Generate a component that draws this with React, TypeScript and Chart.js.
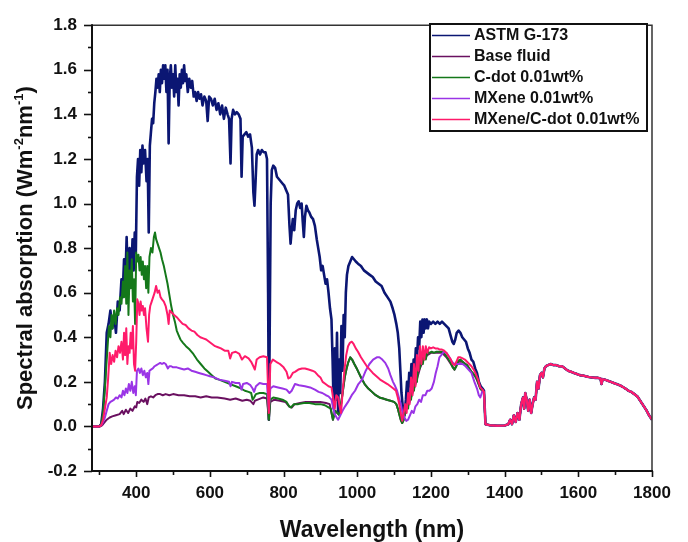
import React, { useEffect, useRef } from "react";
import { Chart, registerables } from "chart.js";

Chart.register(...registerables);

// ---------- data (wavelength nm, spectral absorption W m^-2 nm^-1) ----------
const xTickValues = [400, 600, 800, 1000, 1200, 1400, 1600, 1800];
const yTickValues = [-0.2, 0, 0.2, 0.4, 0.6, 0.8, 1.0, 1.2, 1.4, 1.6, 1.8];

const seriesLabels = ["ASTM G-173", "Base fluid", "C-dot 0.01wt%", "MXene 0.01wt%", "MXene/C-dot 0.01wt%"];

// shared tail (>1345 nm) where all curves coincide
const tailPairs: number[][] = [
  [1348, 0.01], [1360, 0.005], [1380, 0.003], [1400, 0.004], [1410, 0.01], [1415, 0.03], [1420, 0.01],
  [1425, 0.05], [1430, 0.02], [1435, 0.06], [1440, 0.03], [1445, 0.1], [1450, 0.13], [1453, 0.08],
  [1456, 0.15], [1460, 0.12], [1464, 0.07], [1468, 0.12], [1472, 0.06], [1476, 0.1], [1480, 0.13],
  [1484, 0.12], [1488, 0.2], [1492, 0.17], [1496, 0.23], [1500, 0.24], [1504, 0.22], [1508, 0.26],
  [1512, 0.27], [1518, 0.275], [1525, 0.28], [1532, 0.275], [1540, 0.275], [1548, 0.27], [1556, 0.27],
  [1564, 0.26], [1572, 0.25], [1580, 0.245], [1588, 0.24], [1596, 0.235], [1604, 0.23], [1612, 0.228],
  [1620, 0.225], [1628, 0.222], [1636, 0.22], [1644, 0.218], [1652, 0.218], [1660, 0.215], [1663, 0.19],
  [1666, 0.212], [1672, 0.21], [1680, 0.205], [1688, 0.2], [1696, 0.195], [1704, 0.19], [1712, 0.185],
  [1720, 0.178], [1728, 0.17], [1736, 0.16], [1744, 0.155], [1752, 0.145], [1760, 0.135], [1768, 0.115],
  [1776, 0.095], [1784, 0.075], [1792, 0.05], [1800, 0.03],
];

const astmPairs: number[][] = [
  [280, 0], [290, 0], [300, 0], [305, 0.01], [310, 0.08], [315, 0.2], [320, 0.42], [325, 0.46], [330, 0.52],
  [335, 0.44], [340, 0.5], [345, 0.42], [350, 0.56], [355, 0.52], [360, 0.66], [363, 0.58], [367, 0.75],
  [370, 0.62], [374, 0.85], [378, 0.62], [382, 0.8], [386, 0.66], [390, 0.84], [393, 0.7], [396, 0.87],
  [399, 0.78], [402, 1.12], [405, 1.2], [408, 1.08], [411, 1.24], [414, 1.14], [417, 1.26], [420, 1.18],
  [424, 1.24], [428, 1.1], [431, 1.2], [434, 0.87], [437, 1.26], [440, 1.32], [443, 1.38], [446, 1.36],
  [449, 1.45], [452, 1.5], [455, 1.56], [458, 1.52], [461, 1.58], [464, 1.5], [467, 1.6], [470, 1.54],
  [473, 1.62], [476, 1.56], [479, 1.62], [482, 1.5], [485, 1.6], [488, 1.27], [491, 1.56], [494, 1.62],
  [497, 1.52], [500, 1.58], [503, 1.48], [506, 1.62], [509, 1.5], [512, 1.56], [515, 1.44], [518, 1.58],
  [521, 1.52], [524, 1.6], [527, 1.54], [530, 1.62], [533, 1.55], [536, 1.58], [540, 1.5], [544, 1.56],
  [548, 1.52], [552, 1.55], [556, 1.48], [560, 1.5], [564, 1.46], [568, 1.5], [572, 1.47], [576, 1.49],
  [580, 1.44], [585, 1.48], [590, 1.46], [594, 1.37], [598, 1.48], [603, 1.47], [608, 1.44], [613, 1.47],
  [618, 1.42], [623, 1.45], [628, 1.4], [633, 1.44], [638, 1.38], [643, 1.43], [648, 1.4], [652, 1.38],
  [656, 1.18], [659, 1.38], [663, 1.42], [668, 1.4], [673, 1.41], [678, 1.4], [683, 1.38], [686, 1.12],
  [689, 1.3], [694, 1.31], [699, 1.32], [704, 1.3], [709, 1.31], [714, 1.25], [718, 1.05], [721, 0.99],
  [724, 1.1], [727, 1.22], [731, 1.24], [736, 1.22], [741, 1.24], [746, 1.23], [751, 1.23], [755, 1.2],
  [758, 0.6], [760, 0.03], [762, 0.35], [765, 1.0], [768, 1.15], [772, 1.17], [777, 1.16], [782, 1.12],
  [787, 1.11], [792, 1.1], [797, 1.09], [802, 1.08], [807, 1.06], [812, 1.04], [816, 0.9], [819, 0.82],
  [822, 0.88], [825, 0.93], [829, 0.88], [833, 0.97], [837, 1.0], [841, 1.01], [845, 0.98], [849, 1.0],
  [852, 0.92], [855, 0.85], [858, 0.94], [862, 0.99], [866, 0.97], [870, 0.96], [875, 0.94], [880, 0.93],
  [885, 0.9], [890, 0.84], [894, 0.8], [898, 0.76], [902, 0.7], [906, 0.72], [910, 0.68], [914, 0.64],
  [918, 0.66], [922, 0.6], [926, 0.53], [930, 0.48], [933, 0.3], [936, 0.08], [939, 0.35], [942, 0.12],
  [945, 0.42], [948, 0.06], [951, 0.3], [954, 0.15], [957, 0.45], [960, 0.25], [963, 0.5], [966, 0.4],
  [969, 0.6], [972, 0.68], [976, 0.72], [981, 0.74], [986, 0.76], [991, 0.75], [996, 0.74], [1002, 0.73],
  [1010, 0.72], [1018, 0.7], [1026, 0.69], [1034, 0.68], [1042, 0.67], [1050, 0.65], [1058, 0.64],
  [1066, 0.63], [1074, 0.6], [1082, 0.58], [1090, 0.56], [1096, 0.53], [1101, 0.5], [1106, 0.46],
  [1110, 0.42], [1114, 0.35], [1117, 0.25], [1120, 0.15], [1124, 0.08], [1128, 0.05], [1132, 0.12],
  [1135, 0.2], [1138, 0.14], [1141, 0.24], [1144, 0.18], [1147, 0.28], [1150, 0.2], [1153, 0.3],
  [1156, 0.25], [1159, 0.35], [1162, 0.3], [1165, 0.4], [1168, 0.35], [1171, 0.47], [1174, 0.4],
  [1177, 0.48], [1180, 0.42], [1183, 0.48], [1186, 0.44], [1189, 0.48], [1192, 0.44], [1195, 0.47],
  [1200, 0.46], [1206, 0.47], [1212, 0.46], [1218, 0.47], [1224, 0.46], [1230, 0.47], [1236, 0.46],
  [1242, 0.45], [1248, 0.44], [1253, 0.41], [1258, 0.38], [1262, 0.37], [1266, 0.39], [1270, 0.42],
  [1275, 0.43], [1280, 0.42], [1285, 0.4], [1290, 0.39], [1295, 0.38], [1300, 0.35], [1305, 0.33],
  [1310, 0.3], [1315, 0.29], [1320, 0.26], [1325, 0.24], [1330, 0.2], [1335, 0.18], [1340, 0.17], [1344, 0.16],
];

const basePairs: number[][] = [
  [280, 0], [300, 0], [305, 0.002], [310, 0.01], [315, 0.02], [320, 0.03], [328, 0.04], [335, 0.045],
  [345, 0.05], [355, 0.055], [362, 0.07], [366, 0.055], [372, 0.075], [378, 0.06], [384, 0.08], [390, 0.07],
  [396, 0.09], [400, 0.085], [403, 0.11], [408, 0.105], [414, 0.12], [420, 0.11], [425, 0.125], [430, 0.1],
  [434, 0.13], [440, 0.135], [446, 0.13], [452, 0.14], [458, 0.145], [465, 0.145], [472, 0.14], [480, 0.145],
  [490, 0.14], [500, 0.145], [515, 0.14], [530, 0.14], [545, 0.135], [560, 0.135], [575, 0.13], [590, 0.135],
  [605, 0.13], [620, 0.13], [640, 0.125], [655, 0.12], [670, 0.125], [688, 0.115], [700, 0.12], [710, 0.115],
  [718, 0.1], [722, 0.115], [730, 0.12], [745, 0.13], [755, 0.125], [760, 0.03], [764, 0.11], [775, 0.12],
  [790, 0.115], [805, 0.11], [815, 0.09], [822, 0.085], [830, 0.1], [845, 0.105], [860, 0.11], [880, 0.11],
  [900, 0.11], [915, 0.105], [925, 0.1], [934, 0.03], [940, 0.07], [946, 0.06], [952, 0.05], [956, 0.1],
  [961, 0.16], [966, 0.22], [971, 0.26], [976, 0.29], [981, 0.31], [986, 0.3], [992, 0.28], [1000, 0.255],
  [1010, 0.22], [1020, 0.19], [1030, 0.17], [1040, 0.155], [1050, 0.14], [1060, 0.13], [1070, 0.125],
  [1080, 0.12], [1090, 0.115], [1100, 0.11], [1106, 0.1], [1110, 0.08], [1114, 0.055], [1118, 0.03],
  [1122, 0.015], [1126, 0.03], [1130, 0.07], [1140, 0.1], [1150, 0.15], [1160, 0.2], [1170, 0.26],
  [1180, 0.3], [1190, 0.32], [1200, 0.33], [1215, 0.33], [1230, 0.33], [1242, 0.31], [1254, 0.28],
  [1264, 0.255], [1274, 0.29], [1286, 0.29], [1298, 0.275], [1310, 0.245], [1322, 0.22], [1334, 0.17], [1344, 0.15],
];

const cdotPairs: number[][] = [
  [280, 0], [300, 0], [305, 0.01], [310, 0.06], [314, 0.15], [318, 0.25], [322, 0.35], [326, 0.45], [330, 0.4],
  [333, 0.5], [336, 0.44], [340, 0.52], [344, 0.46], [348, 0.53], [352, 0.5], [356, 0.58], [360, 0.55],
  [364, 0.65], [367, 0.58], [370, 0.72], [373, 0.55], [376, 0.78], [379, 0.5], [382, 0.7], [385, 0.62],
  [388, 0.75], [391, 0.56], [394, 0.66], [397, 0.46], [400, 0.78], [403, 0.74], [406, 0.77], [409, 0.7],
  [412, 0.76], [415, 0.68], [418, 0.74], [421, 0.66], [424, 0.72], [427, 0.62], [430, 0.72], [433, 0.6],
  [436, 0.76], [440, 0.8], [444, 0.78], [448, 0.85], [451, 0.87], [454, 0.84], [458, 0.82], [462, 0.8],
  [466, 0.78], [470, 0.75], [475, 0.72], [480, 0.68], [485, 0.64], [490, 0.59], [495, 0.54], [500, 0.5],
  [505, 0.47], [510, 0.43], [515, 0.41], [520, 0.39], [527, 0.375], [535, 0.36], [545, 0.345], [555, 0.325],
  [565, 0.3], [575, 0.28], [585, 0.26], [595, 0.245], [605, 0.23], [615, 0.215], [625, 0.21], [640, 0.2],
  [655, 0.19], [670, 0.18], [685, 0.17], [695, 0.16], [705, 0.155], [712, 0.15], [716, 0.12], [720, 0.13],
  [725, 0.145], [735, 0.15], [745, 0.15], [755, 0.145], [760, 0.03], [764, 0.12], [772, 0.13], [785, 0.125],
  [797, 0.12], [808, 0.11], [815, 0.09], [820, 0.085], [828, 0.1], [840, 0.1], [855, 0.105], [870, 0.105],
  [885, 0.1], [900, 0.1], [912, 0.095], [922, 0.085], [928, 0.08], [934, 0.03], [940, 0.07], [946, 0.06],
  [952, 0.05], [956, 0.1], [961, 0.16], [966, 0.22], [971, 0.26], [976, 0.29], [981, 0.31], [986, 0.3],
  [992, 0.28], [1000, 0.255], [1010, 0.22], [1020, 0.19], [1030, 0.17], [1040, 0.155], [1050, 0.14],
  [1060, 0.13], [1070, 0.125], [1080, 0.12], [1090, 0.115], [1100, 0.11], [1106, 0.1], [1110, 0.08],
  [1114, 0.055], [1118, 0.03], [1122, 0.015], [1126, 0.03], [1130, 0.07], [1134, 0.1], [1138, 0.08],
  [1142, 0.15], [1146, 0.12], [1150, 0.2], [1154, 0.16], [1158, 0.25], [1162, 0.2], [1166, 0.3], [1170, 0.26],
  [1174, 0.33], [1178, 0.28], [1182, 0.33], [1186, 0.3], [1190, 0.335], [1196, 0.33], [1202, 0.335],
  [1208, 0.33], [1215, 0.335], [1222, 0.335], [1228, 0.335], [1235, 0.33], [1242, 0.315], [1248, 0.3],
  [1254, 0.285], [1259, 0.265], [1264, 0.255], [1269, 0.27], [1274, 0.295], [1280, 0.3], [1286, 0.29],
  [1292, 0.28], [1298, 0.275], [1304, 0.26], [1310, 0.245], [1316, 0.235], [1322, 0.22], [1328, 0.2],
  [1334, 0.17], [1340, 0.16], [1344, 0.15],
];

const mxenePairs: number[][] = [
  [280, 0], [300, 0], [305, 0.005], [310, 0.02], [315, 0.04], [320, 0.07], [325, 0.1], [330, 0.11],
  [335, 0.115], [340, 0.12], [345, 0.13], [350, 0.125], [355, 0.14], [360, 0.13], [364, 0.16], [368, 0.14],
  [372, 0.17], [376, 0.15], [380, 0.19], [384, 0.16], [388, 0.2], [392, 0.15], [396, 0.18], [399, 0.14],
  [402, 0.25], [406, 0.26], [410, 0.24], [414, 0.26], [418, 0.23], [422, 0.25], [426, 0.22], [430, 0.24],
  [433, 0.19], [436, 0.25], [440, 0.255], [445, 0.26], [450, 0.27], [455, 0.275], [460, 0.28], [465, 0.285],
  [470, 0.28], [475, 0.285], [480, 0.28], [486, 0.26], [490, 0.27], [495, 0.27], [500, 0.265], [510, 0.265],
  [520, 0.26], [530, 0.255], [540, 0.26], [550, 0.25], [560, 0.245], [570, 0.24], [580, 0.235], [590, 0.23],
  [600, 0.225], [612, 0.22], [625, 0.21], [640, 0.205], [652, 0.2], [656, 0.18], [660, 0.2], [670, 0.195],
  [680, 0.195], [686, 0.165], [690, 0.19], [700, 0.195], [710, 0.185], [716, 0.17], [720, 0.155], [725, 0.18],
  [735, 0.195], [745, 0.19], [755, 0.19], [760, 0.07], [764, 0.17], [772, 0.18], [785, 0.175], [797, 0.17],
  [808, 0.165], [816, 0.15], [822, 0.16], [831, 0.19], [842, 0.185], [858, 0.18], [872, 0.175], [885, 0.165],
  [895, 0.155], [905, 0.15], [915, 0.14], [922, 0.135], [930, 0.12], [935, 0.08], [939, 0.055], [944, 0.04],
  [948, 0.03], [954, 0.05], [960, 0.07], [967, 0.09], [975, 0.11], [985, 0.14], [994, 0.16], [1003, 0.19],
  [1013, 0.21], [1023, 0.25], [1033, 0.28], [1043, 0.3], [1053, 0.31], [1060, 0.31], [1068, 0.3],
  [1076, 0.285], [1084, 0.26], [1090, 0.23], [1097, 0.2], [1103, 0.18], [1108, 0.16], [1113, 0.13],
  [1118, 0.1], [1123, 0.06], [1128, 0.04], [1133, 0.025], [1138, 0.03], [1143, 0.05], [1148, 0.07],
  [1153, 0.06], [1158, 0.09], [1163, 0.1], [1168, 0.12], [1173, 0.11], [1178, 0.14], [1185, 0.14],
  [1190, 0.16], [1196, 0.16], [1202, 0.17], [1208, 0.2], [1213, 0.24], [1218, 0.27], [1223, 0.31],
  [1228, 0.32], [1235, 0.335], [1242, 0.33], [1250, 0.31], [1257, 0.29], [1263, 0.28], [1270, 0.28],
  [1278, 0.28], [1286, 0.28], [1294, 0.27], [1302, 0.255], [1310, 0.24], [1318, 0.2], [1325, 0.17],
  [1330, 0.14], [1334, 0.13], [1340, 0.16], [1344, 0.15],
];

const hybridPairs: number[][] = [
  [280, 0], [300, 0], [305, 0.005], [310, 0.03], [315, 0.08], [320, 0.13], [324, 0.22], [328, 0.33],
  [332, 0.28], [336, 0.32], [340, 0.29], [344, 0.34], [348, 0.31], [352, 0.36], [356, 0.33], [360, 0.38],
  [364, 0.3], [367, 0.42], [370, 0.32], [373, 0.44], [376, 0.28], [379, 0.36], [382, 0.33], [385, 0.42],
  [388, 0.35], [391, 0.45], [394, 0.28], [397, 0.25], [400, 0.38], [403, 0.57], [406, 0.55], [409, 0.5],
  [412, 0.56], [415, 0.52], [418, 0.54], [421, 0.5], [424, 0.53], [428, 0.44], [432, 0.38], [435, 0.5],
  [438, 0.54], [442, 0.56], [446, 0.58], [450, 0.6], [454, 0.63], [458, 0.6], [462, 0.61], [466, 0.58],
  [470, 0.57], [475, 0.56], [480, 0.54], [485, 0.5], [488, 0.46], [491, 0.52], [497, 0.51], [503, 0.5],
  [510, 0.49], [518, 0.475], [526, 0.46], [534, 0.455], [542, 0.44], [550, 0.43], [558, 0.425], [566, 0.41],
  [574, 0.4], [582, 0.395], [590, 0.39], [598, 0.38], [606, 0.37], [614, 0.36], [622, 0.355], [630, 0.35],
  [640, 0.34], [650, 0.34], [655, 0.305], [660, 0.33], [670, 0.335], [680, 0.325], [687, 0.3], [695, 0.315],
  [705, 0.305], [712, 0.29], [718, 0.27], [722, 0.255], [727, 0.3], [735, 0.31], [745, 0.315], [755, 0.31],
  [760, 0.06], [764, 0.28], [771, 0.3], [780, 0.29], [790, 0.28], [800, 0.265], [808, 0.245], [813, 0.215],
  [818, 0.22], [825, 0.24], [831, 0.245], [840, 0.255], [850, 0.26], [858, 0.26], [868, 0.255], [878, 0.25],
  [885, 0.245], [893, 0.23], [900, 0.22], [906, 0.2], [914, 0.19], [922, 0.18], [930, 0.175], [935, 0.12],
  [939, 0.08], [943, 0.14], [948, 0.13], [952, 0.09], [956, 0.06], [960, 0.15], [965, 0.25], [970, 0.32],
  [975, 0.36], [980, 0.375], [985, 0.38], [990, 0.37], [996, 0.35], [1002, 0.335], [1010, 0.31],
  [1018, 0.29], [1026, 0.27], [1034, 0.255], [1042, 0.24], [1052, 0.225], [1062, 0.21], [1072, 0.2],
  [1082, 0.19], [1090, 0.18], [1098, 0.17], [1105, 0.16], [1110, 0.13], [1114, 0.1], [1118, 0.06],
  [1122, 0.025], [1126, 0.06], [1130, 0.1], [1134, 0.06], [1138, 0.15], [1142, 0.1], [1146, 0.22],
  [1150, 0.14], [1154, 0.28], [1158, 0.18], [1162, 0.32], [1166, 0.25], [1170, 0.36], [1174, 0.28],
  [1178, 0.36], [1182, 0.3], [1186, 0.36], [1190, 0.33], [1195, 0.355], [1200, 0.35], [1206, 0.355],
  [1212, 0.35], [1218, 0.35], [1224, 0.345], [1230, 0.345], [1236, 0.34], [1242, 0.33], [1248, 0.315],
  [1254, 0.3], [1259, 0.28], [1264, 0.275], [1269, 0.29], [1274, 0.31], [1280, 0.31], [1286, 0.305],
  [1292, 0.3], [1298, 0.29], [1304, 0.28], [1310, 0.27], [1316, 0.255], [1322, 0.235], [1328, 0.21],
  [1334, 0.175], [1340, 0.165], [1344, 0.155],
];

const seriesColors = ["#0b1673", "#6a1060", "#14781a", "#9a34e6", "#ff1a6a"];
const seriesWidths = [2.6, 2, 2, 2, 2];

// ---------- styling ----------
const FONT = "'Liberation Sans', Arial, Helvetica, sans-serif";

const toPoints = (pairs: number[][]) => pairs.concat(tailPairs).map(([x, y]) => ({ x, y }));

const framePlugin = {
  id: "frameTicks",
  afterDatasetsDraw(chart: any) {
    const { ctx, chartArea, scales } = chart;
    const { left, right, top, bottom } = chartArea;
    const xs = scales.x;
    const ys = scales.y;
    ctx.save();
    ctx.strokeStyle = "#333";
    ctx.lineWidth = 1.5;
    ctx.beginPath();
    ctx.moveTo(left, top);
    ctx.lineTo(right, top);
    ctx.lineTo(right, bottom);
    ctx.stroke();
    ctx.strokeStyle = "#111";
    ctx.lineWidth = 2;
    ctx.beginPath();
    ctx.moveTo(left, top - 1);
    ctx.lineTo(left, bottom);
    ctx.lineTo(right + 1, bottom);
    ctx.stroke();
    ctx.lineWidth = 1.6;
    for (let i = 0; i < yTickValues.length; i++) {
      const py = Math.round(ys.getPixelForValue(yTickValues[i])) + 0.5;
      ctx.beginPath();
      ctx.moveTo(left - 8, py);
      ctx.lineTo(left, py);
      ctx.stroke();
      if (i < yTickValues.length - 1) {
        const pm = Math.round(ys.getPixelForValue((yTickValues[i] + yTickValues[i + 1]) / 2)) + 0.5;
        ctx.beginPath();
        ctx.moveTo(left - 4, pm);
        ctx.lineTo(left, pm);
        ctx.stroke();
      }
    }
    const xm = [xTickValues[0] - (xTickValues[1] - xTickValues[0]) / 2];
    for (let i = 0; i < xTickValues.length - 1; i++) xm.push((xTickValues[i] + xTickValues[i + 1]) / 2);
    for (const v of xTickValues) {
      const px = Math.round(xs.getPixelForValue(v)) + 0.5;
      ctx.beginPath();
      ctx.moveTo(px, bottom);
      ctx.lineTo(px, bottom + 6);
      ctx.stroke();
    }
    for (const v of xm) {
      const px = Math.round(xs.getPixelForValue(v)) + 0.5;
      ctx.beginPath();
      ctx.moveTo(px, bottom);
      ctx.lineTo(px, bottom + 4);
      ctx.stroke();
    }
    ctx.restore();
  },
  afterDraw(chart: any) {
    const { ctx, chartArea } = chart;
    ctx.save();
    const big = `bold 22px ${FONT}`;
    const small = `bold 13px ${FONT}`;
    const parts: [string, boolean][] = [
      ["Spectral absorption (Wm", false],
      ["-2", true],
      ["nm", false],
      ["-1", true],
      [")", false],
    ];
    let total = 0;
    for (const [t, sup] of parts) {
      ctx.font = sup ? small : big;
      total += ctx.measureText(t).width;
    }
    const cy = (chartArea.top + chartArea.bottom) / 2;
    ctx.translate(32, cy);
    ctx.rotate(-Math.PI / 2);
    ctx.fillStyle = "#111";
    ctx.textBaseline = "alphabetic";
    ctx.textAlign = "left";
    let xx = -total / 2;
    for (const [t, sup] of parts) {
      ctx.font = sup ? small : big;
      ctx.fillText(t, xx, sup ? -9 : 0);
      xx += ctx.measureText(t).width;
    }
    ctx.restore();

    ctx.save();
    const bx = 430, by = 24, bw = 217, bh = 107;
    ctx.fillStyle = "#fff";
    ctx.fillRect(bx, by, bw, bh);
    ctx.strokeStyle = "#111";
    ctx.lineWidth = 2;
    ctx.strokeRect(bx, by, bw, bh);
    ctx.font = `bold 16px ${FONT}`;
    ctx.textBaseline = "middle";
    ctx.textAlign = "left";
    const rowY = [35, 56, 77, 98, 119];
    for (let i = 0; i < seriesLabels.length; i++) {
      ctx.strokeStyle = seriesColors[i];
      ctx.lineWidth = 1.6;
      ctx.beginPath();
      ctx.moveTo(432, rowY[i] + 0.5);
      ctx.lineTo(470, rowY[i] + 0.5);
      ctx.stroke();
      ctx.fillStyle = "#111";
      ctx.fillText(seriesLabels[i], 474, rowY[i] + 1);
    }
    ctx.restore();
  },
};

export default function App() {
  const ref = useRef<HTMLCanvasElement | null>(null);

  useEffect(() => {
    if (!ref.current) return;
    const allPairs = [astmPairs, basePairs, cdotPairs, mxenePairs, hybridPairs];
    const chart = new Chart(ref.current, {
      type: "line",
      data: {
        datasets: allPairs.map((p, i) => ({
          label: seriesLabels[i],
          data: toPoints(p),
          borderColor: seriesColors[i],
          backgroundColor: seriesColors[i],
          borderWidth: seriesWidths[i],
          borderJoinStyle: "round" as const,
          pointRadius: 0,
          tension: 0,
          fill: false,
          order: allPairs.length - i,
        })),
      },
      options: {
        responsive: false,
        animation: false,
        events: [],
        layout: { padding: { top: 20, right: 36, left: 0, bottom: 0 } },
        plugins: { legend: { display: false }, tooltip: { enabled: false } },
        scales: {
          x: {
            type: "linear",
            min: 280,
            max: 1800,
            grid: { display: false, drawTicks: false },
            border: { display: false },
            afterBuildTicks: (s: any) => {
              s.ticks = xTickValues.map((v) => ({ value: v }));
            },
            afterFit: (s: any) => {
              s.height = 71;
            },
            ticks: {
              padding: 12,
              autoSkip: false,
              maxRotation: 0,
              color: "#111",
              font: { family: FONT, size: 17, weight: "bold" },
              callback: (v: any) => String(v),
            },
            title: {
              display: true,
              text: "Wavelength (nm)",
              color: "#111",
              padding: { top: 0, bottom: 0 },
              font: { family: FONT, size: 23, weight: "bold", lineHeight: 1 },
            },
          },
          y: {
            type: "linear",
            min: -0.2,
            max: 1.8,
            grid: { display: false, drawTicks: false },
            border: { display: false },
            afterBuildTicks: (s: any) => {
              s.ticks = yTickValues.map((v) => ({ value: v }));
            },
            afterFit: (s: any) => {
              s.width = 92;
            },
            ticks: {
              padding: 15,
              autoSkip: false,
              color: "#111",
              font: { family: FONT, size: 17, weight: "bold" },
              callback: (v: any) => Number(v).toFixed(1),
            },
          },
        },
      },
      plugins: [framePlugin],
    });
    return () => chart.destroy();
  }, []);

  return (
    <div style={{ position: "fixed", left: 0, top: 0, width: 688, height: 542, background: "#fff" }}>
      <canvas ref={ref} width={688} height={542} style={{ display: "block" }} />
    </div>
  );
}
